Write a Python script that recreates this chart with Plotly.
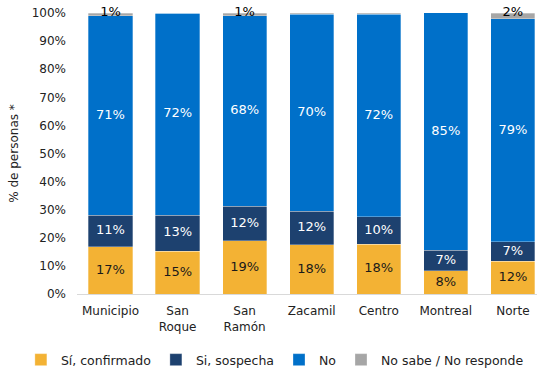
import plotly.graph_objects as go

categories = ["Municipio", "San<br>Roque", "San<br>Ramón", "Zacamil", "Centro", "Montreal", "Norte"]
confirmado = [16.8, 15.2, 19.0, 17.6, 17.7, 8.3, 11.7]
sospecha = [11.2, 12.9, 12.3, 11.8, 9.8, 7.3, 6.9]
no = [71.0, 71.9, 67.7, 70.1, 72.0, 84.6, 79.3]
nsnr = [1.0, 0.0, 1.0, 0.5, 0.5, 0.0, 2.1]
nsnr_labels = ["1%", "", "1%", "", "", "", "2%"]

FONT = "DejaVu Sans"
colors = {"conf": "#F3B234", "sosp": "#1D416F", "no": "#0070C9", "ns": "#A6A6A6"}

series = [
    ("Sí, confirmado", confirmado, colors["conf"], "#1a1a1a"),
    ("Si, sospecha", sospecha, colors["sosp"], "white"),
    ("No", no, colors["no"], "white"),
    ("No sabe / No responde", nsnr, colors["ns"], "black"),
]

fig = go.Figure()
for name, vals, color, _ in series:
    fig.add_trace(go.Bar(
        x=categories, y=vals, name=name,
        marker=dict(color=color, line=dict(color="rgba(255,255,255,0.5)", width=0.6)),
        hoverinfo="skip",
    ))

# value labels at segment midpoints
base = [0.0] * len(categories)
for name, vals, color, tcolor in series[:3]:
    mids = [b + v / 2 for b, v in zip(base, vals)]
    fig.add_trace(go.Scatter(
        x=categories, y=mids, mode="text",
        text=[f"{round(v)}%" for v in vals],
        textposition="middle center", cliponaxis=False,
        textfont=dict(color=tcolor, size=13, family=FONT),
        showlegend=False, hoverinfo="skip",
    ))
    base = [b + v for b, v in zip(base, vals)]

totals = [b + v for b, v in zip(base, nsnr)]
fig.add_trace(go.Scatter(
    x=categories, y=totals, mode="text", text=nsnr_labels,
    textposition="middle center", cliponaxis=False,
    textfont=dict(color="black", size=13, family=FONT),
    showlegend=False, hoverinfo="skip",
))

fig.update_layout(
    barmode="stack",
    bargap=0.34,
    width=537, height=371,
    margin=dict(l=77, r=0, t=13, b=77, autoexpand=False),
    paper_bgcolor="white", plot_bgcolor="white",
    font=dict(family=FONT, size=12, color="#222"),
    legend=dict(orientation="h", x=-0.122, xanchor="left", y=-0.235, yanchor="middle",
                font=dict(size=12.5, family=FONT), traceorder="normal", itemwidth=30),
    xaxis=dict(range=[-0.5, 6.36], showgrid=False, showline=True, linecolor="#d9d9d9",
               linewidth=1, tickfont=dict(size=12, family=FONT), ticks="",
               ticklabelstandoff=6),
    yaxis=dict(range=[0, 100], dtick=10, ticksuffix="%", showgrid=False, zeroline=False,
               tickfont=dict(size=12, family=FONT), ticklabelstandoff=10,
               title=dict(text="% de personas *", font=dict(size=12, family=FONT), standoff=10)),
)

fig.write_html("out.html", config={"displayModeBar": False},
               post_script="document.body.style.margin='0';")
